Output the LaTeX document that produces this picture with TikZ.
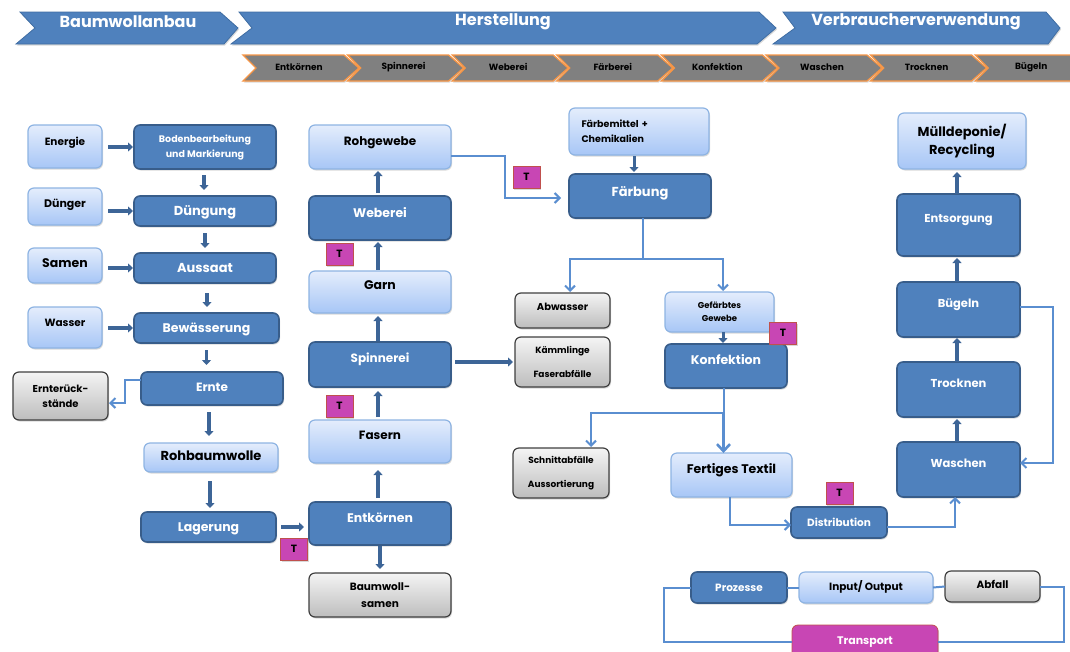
\documentclass[tikz,border=0pt]{standalone}
\usepackage{fontspec}
\setmainfont{Poppins}
\usetikzlibrary{arrows.meta,calc,shadows}
\definecolor{pblue}{HTML}{4F81BD}
\definecolor{pborder}{HTML}{385D8A}
\definecolor{ltop}{HTML}{E4EDFC}
\definecolor{lbot}{HTML}{A7C6F6}
\definecolor{lborder}{HTML}{8EB4E3}
\definecolor{gtop}{HTML}{F4F4F4}
\definecolor{gbot}{HTML}{BDBDBD}
\definecolor{gborder}{HTML}{404040}
\definecolor{mag}{HTML}{C846B4}
\definecolor{magb}{HTML}{C0504D}
\definecolor{darr}{HTML}{3D6597}
\definecolor{larrc}{HTML}{5A8ED0}
\definecolor{chevgray}{HTML}{808080}
\definecolor{chevor}{HTML}{F79646}
\definecolor{banedge}{HTML}{3F6DA3}
\newcommand\BX[7]{\node[#1, minimum width={(#5-#3)*1pt}, minimum height={(#6-#4)*1pt}] (#2) at ({(#3+#5)/2},{(#4+#6)/2}) {#7};}
\begin{document}
\begin{tikzpicture}[x=1pt,y=-1pt,
 fs/.style={font=\bfseries\fontsize{#1}{13}\selectfont},
 fsl/.style n args={2}{font=\bfseries\fontsize{#1}{#2}\selectfont},
 shd/.style={drop shadow={shadow xshift=1pt, shadow yshift=-1.5pt, opacity=0.3}},
 base/.style={rounded corners=6pt, inner sep=0pt, outer sep=0pt, align=center, fs=11.5, shd},
 proc/.style={base, fill=pblue, draw=pborder, line width=1.6pt, text=white},
 inp/.style={base, top color=ltop, bottom color=lbot, draw=lborder, line width=1.2pt, text=black},
 waste/.style={base, top color=gtop, bottom color=gbot, draw=gborder, line width=1.2pt, text=black},
 tbox/.style={fill=mag, draw=magb, line width=0.8pt, inner sep=0pt, outer sep=0pt, minimum width=27pt, minimum height=22pt, text=black, fs=10.5, shd},
 transbox/.style={base, fill=mag, draw=magb, line width=0.8pt, text=white},
 sl/.style={text height=8pt, text depth=#1},
 tarr/.style={draw=darr, line width=3.5pt, -{Triangle[width=9pt,length=5pt]}, shorten <=5pt, shorten >=4pt},
 larr/.style={draw=larrc, line width=2pt, -{Straight Barb[width=10pt,length=5pt]}},
 lline/.style={draw=larrc, line width=2pt},
 banner/.style={fill=pblue, draw=banedge, line width=0.8pt, shd},
 bantext/.style={text=white, inner sep=0pt, font=\bfseries\fontsize{16}{18}\selectfont},
 chev/.style={fill=chevgray, draw=chevor, line width=1.3pt, shd},
 chevtext/.style={text=black, inner sep=0pt, font=\bfseries\fontsize{9}{10}\selectfont},
]
\useasboundingbox (0,0) rectangle (1070,651);
\fill[white] (0,0) rectangle (1070,651);
\clip (0,0) rectangle (1070,651);

% top banners
\path[banner] (20,12) -- (220,12) -- (238,28) -- (224,44) -- (16,44) -- (35,28) -- cycle;
\path[banner] (239,12) -- (759,12) -- (776,28) -- (757,44) -- (231,44) -- (252,28) -- cycle;
\path[banner] (783,12) -- (1046,12) -- (1060,28) -- (1048,44) -- (773,44) -- (795,28) -- cycle;
\node[bantext] (bn1) at (128,22) {Baumwollanbau};
\node[bantext] (bn2) at (503,22) {Herstellung};
\node[bantext] (bn3) at (916,22) {Verbraucherverwendung};

% step chevrons
\foreach \i/\t in {0/Entkörnen,1/Spinnerei,2/Weberei,3/Färberei,4/Konfektion,5/Waschen,6/Trocknen,7/Bügeln}{
  \pgfmathsetmacro\xx{243+104.6*\i}
  \path[chev] (\xx,55) -- ({\xx+101},55) -- ({\xx+116},68) -- ({\xx+101},81) -- (\xx,81) -- ({\xx+13},68) -- cycle;
  \node[chevtext] (ch\i) at ({\xx+56},67) {\t};
}

% left column
\BX{inp, sl=11pt, fs=10.5}{energie}{28}{125}{102}{168}{Energie}
\BX{inp, sl=7pt, fs=11}{dunger}{28}{188}{102}{225}{Dünger}
\BX{inp, sl=5pt, fs=12.5}{samen}{28}{248}{102}{283}{Samen}
\BX{inp, sl=11pt, fs=10.5}{wasser}{28}{307}{102}{348}{Wasser}
\BX{proc, fsl={9.5}{15}}{bod}{134}{125}{276}{169}{Bodenbearbeitung\\und Markierung}
\BX{proc, sl=0pt, fs=13}{dungung}{134}{196}{276}{226}{Düngung}
\BX{proc, sl=0pt, fs=13}{aussaat}{134}{253}{276}{283}{Aussaat}
\BX{proc, sl=0pt, fs=12.5}{bew}{134}{313}{279}{343}{Bewässerung}
\BX{proc, sl=2pt, fs=12}{ernte}{141}{372}{283}{405}{Ernte}
\BX{waste, fsl={10}{15}}{ernrest}{13}{372}{108}{420}{Ernterück-\\stände}
\BX{inp, sl=2pt, fs=13}{rohb}{144}{443}{278}{472}{Rohbaumwolle}
\BX{proc, sl=0pt, fs=12.5}{lager}{141}{512}{276}{542}{Lagerung}

% middle column
\BX{inp, sl=12pt, fs=12}{rohg}{309}{125}{451}{169}{Rohgewebe}
\BX{proc, sl=10pt, fs=12.5}{weberei}{309}{196}{451}{240}{Weberei}
\BX{inp, sl=14pt, fs=12.5}{garn}{309}{271}{451}{313}{Garn}
\BX{proc, sl=13pt, fs=12}{spinn}{309}{342}{451}{387}{Spinnerei}
\BX{inp, sl=13pt, fs=12}{fasern}{309}{420}{451}{463}{Fasern}
\BX{proc, sl=11pt, fs=12.5}{entk}{309}{502}{451}{545}{Entkörnen}
\BX{waste, fsl={10.5}{17}}{bsamen}{309}{573}{451}{617}{Baumwoll-\\samen}

% dyeing / making up
\BX{inp, fsl={9.5}{15}, align=left, text width=115pt}{farbm}{569}{108}{709}{155}{Färbemittel +\\Chemikalien}
\BX{proc, sl=8pt, fs=13}{farbung}{569}{174}{711}{218}{Färbung}
\BX{waste, sl=9pt, fs=10}{abw}{515}{293}{610}{328}{Abwasser}
\BX{waste, fsl={9}{11}}{kamm}{515}{337}{610}{387}{Kämmlinge\\[13pt]Faserabfälle}
\BX{inp, fsl={8.5}{13}}{gefarbt}{665}{292}{774}{332}{Gefärbtes\\Gewebe}
\BX{proc, sl=12pt, fs=12.5}{konf}{665}{344}{787}{388}{Konfektion}
\BX{inp, sl=12pt, fs=12.5}{fertig}{671}{453}{792}{497}{Fertiges Textil}
\BX{waste, fsl={9}{11}}{schnitt}{513}{448}{609}{498}{Schnittabfälle\\[13pt]Aussortierung}
\BX{proc, sl=1pt, fs=10.5}{distr}{791}{507}{887}{538}{Distribution}

% consumer use
\BX{inp, fsl={13}{18}}{mull}{898}{113}{1026}{169}{Mülldeponie/\\Recycling}
\BX{proc, sl=14pt, fs=11.5}{entsorg}{897}{194}{1020}{256}{Entsorgung}
\BX{proc, sl=13pt, fs=11.5}{bugeln}{897}{282}{1020}{337}{Bügeln}
\BX{proc, sl=13pt, fs=11.5}{trock}{897}{362}{1020}{417}{Trocknen}
\BX{proc, sl=13pt, fs=11.5}{wasch}{897}{442}{1020}{497}{Waschen}

% legend
\BX{proc, sl=1pt, fs=10.5}{proz}{691}{572}{787}{603}{Prozesse}
\BX{inp, sl=3pt, fs=10.5}{io}{799}{572}{933}{603}{Input/ Output}
\BX{waste, sl=5pt, fs=10.5}{abfall}{945}{571}{1040}{602}{Abfall}
\BX{transbox, sl=2pt, fs=11}{transp}{792}{625}{938}{658}{Transport}

% transport markers
\node[tbox] (t1) at (294,549) {T};
\node[tbox] (t2) at (339.5,254) {T};
\node[tbox] (t3) at (339.5,406) {T};
\node[tbox] (t4) at (526.5,177) {T};
\node[tbox] (t5) at (783,333) {T};
\node[tbox] (t6) at (839.5,493) {T};

% thick arrows, left column
\draw[tarr, shorten <=6pt, shorten >=1pt] (energie.east |- bod) -- (bod.west);
\draw[tarr, shorten <=6pt, shorten >=1pt] (dunger.east |- dungung) -- (dungung.west);
\draw[tarr, shorten <=6pt, shorten >=1pt] (samen.east |- aussaat) -- (aussaat.west);
\draw[tarr, shorten <=6pt, shorten >=1pt] (wasser.east |- bew) -- (bew.west);
\draw[tarr, shorten <=6pt, shorten >=6pt] ([xshift=-1pt]bod.south) -- ([xshift=-1pt]bod.south |- dungung.north);
\draw[tarr, shorten <=7pt, shorten >=5pt] (dungung.south) -- (dungung.south |- aussaat.north);
\draw[tarr, shorten <=10pt, shorten >=6pt] ([xshift=2pt]aussaat.south) -- ([xshift=2pt]aussaat.south |- bew.north);
\draw[tarr, shorten <=7pt, shorten >=7pt] (bew.south) -- (bew.south |- ernte.north);
\draw[tarr, shorten <=7pt, shorten >=7pt] ([xshift=-3pt]ernte.south) -- ([xshift=-3pt]ernte.south |- rohb.north);
\draw[tarr, shorten <=9pt, shorten >=4pt] ([xshift=-1pt]rohb.south) -- ([xshift=-1pt]rohb.south |- lager.north);
\draw[tarr, shorten <=5pt, shorten >=5pt] (lager.east) -- (lager.east -| entk.west);
\draw[larr, shorten >=1pt] ([yshift=8.5pt]ernte.west) -- ++(-16,0) |- ([yshift=-7pt]ernrest.east);

% middle column
\draw[tarr, shorten <=3pt, shorten >=2pt] ([xshift=-2pt]weberei.north) -- ([xshift=-2pt]weberei.north |- rohg.south);
\draw[tarr, shorten <=1pt, shorten >=2pt] ([xshift=-2pt]garn.north) -- ([xshift=-2pt]garn.north |- weberei.south);
\draw[tarr, shorten <=1pt, shorten >=3pt] ([xshift=-2pt]spinn.north) -- ([xshift=-2pt]spinn.north |- garn.south);
\draw[tarr, shorten <=3pt, shorten >=4pt] ([xshift=-2pt]fasern.north) -- ([xshift=-2pt]fasern.north |- spinn.south);
\draw[tarr, shorten <=4pt, shorten >=7pt] ([xshift=-2pt]entk.north) -- ([xshift=-2pt]entk.north |- fasern.south);
\draw[tarr, shorten <=1pt, shorten >=4pt] (entk.south) -- (entk.south |- bsamen.north);
\draw[tarr, shorten <=4pt, shorten >=2pt] (spinn.east |- kamm) -- (kamm.west);
\draw[larr, shorten >=8pt] ([yshift=-9pt]rohg.east) -- ++(54,0) |- ([yshift=-2pt]farbung.west);

% dyeing
\draw[tarr, line width=3pt, shorten <=1pt, shorten >=2pt] ([xshift=-5pt]farbm.south) -- ([xshift=-5pt]farbm.south |- farbung.north);
\draw[lline] ([xshift=3pt]farbung.south) -- ++(0,41) coordinate (fsplit);
\draw[larr, shorten >=1pt] (fsplit) -| ([xshift=7.5pt]abw.north);
\draw[larr, shorten >=1pt] (fsplit) -| ([xshift=3.5pt]gefarbt.north);
\draw[tarr, line width=3pt, shorten <=0pt, shorten >=1pt] ([xshift=3.5pt]gefarbt.south) -- ([xshift=3.5pt]gefarbt.south |- konf.north);
\draw[lline] ([xshift=-2.5pt]konf.south) -- ++(0,25) coordinate (ksplit);
\draw[larr, shorten >=1pt] (ksplit) -| ([xshift=30pt]schnitt.north);
\draw[larr, line width=2.6pt, -{Straight Barb[width=13pt,length=7pt]}] (ksplit) -- (ksplit |- fertig.north);
\draw[larr] ([xshift=-1.5pt]fertig.south) |- ([yshift=-2.5pt]distr.west);
\draw[larr] ([yshift=-4.5pt]distr.east) -| ([xshift=-3.5pt]wasch.south);

% consumer column
\draw[tarr, shorten <=0pt, shorten >=2pt] ([xshift=-1.5pt]wasch.north) -- ([xshift=-1.5pt]wasch.north |- trock.south);
\draw[tarr, shorten <=0pt, shorten >=1pt] ([xshift=-1.5pt]trock.north) -- ([xshift=-1.5pt]trock.north |- bugeln.south);
\draw[tarr, shorten <=0pt, shorten >=2pt] ([xshift=-1.5pt]bugeln.north) -- ([xshift=-1.5pt]bugeln.north |- entsorg.south);
\draw[tarr, shorten <=0pt, shorten >=3pt] ([xshift=-1.5pt]entsorg.north) -- ([xshift=-1.5pt]entsorg.north |- mull.south);
\draw[larr] ([yshift=2.5pt]bugeln.east) -- ++(33,0) |- ([yshift=6.5pt]wasch.east);

% legend connections
\draw[lline] (proz.east) -- (io.west);
\draw[lline] (io.east) -- (abfall.west);
\draw[lline] (proz.west) -- ++(-27,0) |- (transp.west);
\draw[lline] (transp.east) -- ++(126,0) |- (abfall.east);
\end{tikzpicture}
\end{document}
